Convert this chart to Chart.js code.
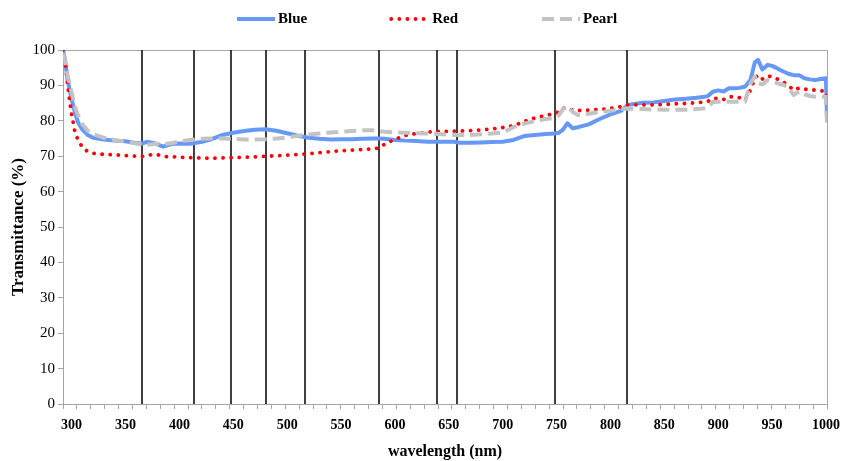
<!DOCTYPE html>
<html><head><meta charset="utf-8">
<script src="https://cdn.jsdelivr.net/npm/chart.js@4.4.1/dist/chart.umd.min.js"></script>
<style>html,body{margin:0;padding:0;background:#fff}#wrap{width:842px;height:461px}</style>
</head><body><div id="wrap"><canvas id="c" width="842" height="461"></canvas></div>
<script>
const wavelengths = [292,294,296,298,300,303,306,310,315,320,330,340,350,360,365,370,375,380,385,390,395,400,410,420,430,440,450,460,470,480,490,500,510,520,530,540,550,560,570,580,585,590,600,610,620,630,640,650,655,660,670,680,690,700,710,720,730,740,748,752,756,760,765,770,780,790,800,810,816,830,840,850,860,870,880,890,895,900,905,910,915,920,925,930,934,937,941,946,950,955,960,965,970,975,980,985,990,995,1000,1001];
const blue = [100,97,92,89,86,82.5,79.5,77.5,76,75.2,74.7,74.4,74.2,73.7,73.6,74.0,73.8,73.3,72.7,73.2,73.5,73.6,73.5,74.0,74.8,76.0,76.6,77.1,77.5,77.6,77.2,76.5,75.8,75.2,74.9,74.7,74.8,74.8,74.9,75.0,75.0,74.9,74.6,74.4,74.3,74.1,74.1,74.1,74.1,73.8,73.8,73.9,74.0,74.1,74.6,75.7,76.0,76.3,76.4,76.6,77.5,79.3,77.9,78.2,79.0,80.5,81.8,82.8,84.5,85.1,85.2,85.6,86.0,86.2,86.5,86.9,88.2,88.6,88.3,89.2,89.2,89.3,89.7,91.5,96.5,97.2,94.5,95.8,95.5,94.8,94.0,93.3,92.9,92.9,92.0,91.7,91.5,91.8,92.0,81];
const red = [100,96.5,91,86,82,77,74.5,72.5,71.3,70.8,70.5,70.4,70.2,70.0,69.9,70.2,70.5,70.4,70.0,69.8,69.8,69.7,69.6,69.5,69.4,69.5,69.6,69.7,69.8,70.0,70.1,70.3,70.5,70.7,71.0,71.3,71.5,71.7,71.9,72.1,72.3,73.3,74.8,75.9,76.4,76.8,77.0,77.0,77.1,77.1,77.2,77.4,77.7,78.1,78.6,79.8,80.8,81.5,82.0,82.5,83.6,83.5,83.0,82.9,83.0,83.2,83.5,84.0,84.5,84.5,84.5,84.6,84.8,84.9,85.1,85.4,86.3,86.3,86.0,86.8,86.8,86.5,85.9,88.7,92.0,92.9,91.8,92.7,92.4,91.8,91.1,90.0,88.7,89.2,89.0,88.7,88.7,88.5,88.3,86];
const pearl = [99,97,93,90.5,88,84,81.5,79,77.2,76.2,75.2,74.6,74.1,73.6,73.3,73.2,73.4,73.5,73.2,73.6,73.8,74.2,74.6,74.9,75.0,75.0,74.9,74.7,74.7,74.8,75.0,75.3,75.8,76.1,76.4,76.7,76.9,77.1,77.3,77.3,77.1,76.9,76.7,76.6,76.5,76.4,76.3,76.1,76.0,76.0,76.0,76.2,76.4,76.7,78.2,79.2,79.9,80.5,80.8,81.5,83.3,84.0,82.5,81.6,82.0,82.5,82.8,83.3,83.5,83.3,83.2,83.1,83.1,83.1,83.3,83.6,85.3,85.4,85.4,85.4,85.4,85.4,85.4,90.5,92.5,90.6,90.3,91.5,91.0,90.6,90.2,89.5,87.3,88.3,87.5,87.0,86.8,86.8,86.8,79.5];
const markerLines = [365,414,448,480,517,585,639,658,749,815];
const xTickLabels = [300,350,400,450,500,550,600,650,700,750,800,850,900,950,1000];
const seriesNames = ['Blue','Red','Pearl'];

const X_MIN = 292, X_MAX = 1001;
const SERIF = '"Liberation Serif", "Times New Roman", serif';
const AXIS_GRAY = '#A6A6A6';

const styles = [
  {color:'#6699F5', width:4, dash:[], cap:'butt'},
  {color:'#FF0000', width:3.8, dash:[0.1,8], cap:'round'},
  {color:'#C3C3C3', width:4, dash:[12,6], cap:'butt'}
];
const values = [blue, red, pearl];

const datasets = values.map((arr, i) => ({
  label: seriesNames[i],
  data: wavelengths.map((w, j) => ({x: w, y: arr[j]})),
  borderColor: styles[i].color,
  borderWidth: styles[i].width,
  borderDash: styles[i].dash,
  borderCapStyle: styles[i].cap,
  borderJoinStyle: 'round',
  pointRadius: 0,
  fill: false,
  tension: 0,
  order: 2 - i
}));

const minorTicks = [];
for (let k = 0; k <= 55; k++) minorTicks.push(X_MIN + k * (X_MAX - X_MIN) / 55);

const decor = {
  id: 'decor',
  beforeDatasetsDraw(chart) {
    const {ctx, chartArea: a, scales: {x}} = chart;
    ctx.save();
    ctx.strokeStyle = AXIS_GRAY; ctx.lineWidth = 1;
    ctx.beginPath();
    ctx.moveTo(a.left, a.top + 0.5); ctx.lineTo(a.right, a.top + 0.5);
    ctx.moveTo(a.right + 0.5, a.top); ctx.lineTo(a.right + 0.5, a.bottom);
    ctx.stroke();
    ctx.strokeStyle = '#000'; ctx.lineWidth = 1.5;
    markerLines.forEach(w => {
      const px = Math.round(x.getPixelForValue(w));
      ctx.beginPath(); ctx.moveTo(px, a.top); ctx.lineTo(px, a.bottom); ctx.stroke();
    });
    ctx.restore();
  },
  afterDraw(chart) {
    const {ctx} = chart;
    ctx.save();
    ctx.font = 'bold 15px ' + SERIF;
    ctx.textBaseline = 'middle';
    const y = 19;
    let xPos = 237;
    seriesNames.forEach((name, i) => {
      const s = styles[i];
      ctx.strokeStyle = s.color; ctx.lineWidth = s.width;
      ctx.setLineDash(s.dash); ctx.lineCap = s.cap;
      ctx.beginPath(); ctx.moveTo(xPos, y); ctx.lineTo(xPos + 38, y); ctx.stroke();
      ctx.setLineDash([]);
      ctx.fillStyle = '#000';
      ctx.fillText(name, xPos + 41, y);
      xPos += 41 + ctx.measureText(name).width + 84;
    });
    ctx.restore();
  }
};

new Chart(document.getElementById('c'), {
  type: 'line',
  data: {datasets},
  options: {
    responsive: false,
    devicePixelRatio: 1,
    animation: false,
    layout: {padding: {top: 50, right: 15, left: 0, bottom: 0}},
    plugins: {legend: {display: false}, tooltip: {enabled: false}},
    scales: {
      x: {
        type: 'linear', min: X_MIN, max: X_MAX,
        afterBuildTicks: s => { s.ticks = minorTicks.concat(xTickLabels).sort((a,b)=>a-b).map(v => ({value: v})); },
        afterFit: s => { s.height = 57; },
        border: {color: AXIS_GRAY, width: 1},
        grid: {drawOnChartArea: false, drawTicks: true, tickLength: 5,
               tickColor: c => xTickLabels.includes(c.tick && c.tick.value) ? 'rgba(0,0,0,0)' : AXIS_GRAY},
        ticks: {autoSkip: false, maxRotation: 0, padding: 8, color: '#000',
                font: {family: SERIF, size: 14, weight: 'bold'},
                callback: v => xTickLabels.includes(v) ? String(v) : ''},
        title: {display: true, text: 'wavelength (nm)', color: '#000',
                font: {family: SERIF, size: 16, weight: 'bold'}, padding: {top: 0, bottom: 0}}
      },
      y: {
        min: 0, max: 100,
        afterFit: s => { s.width = 63; },
        border: {color: AXIS_GRAY, width: 1},
        grid: {drawOnChartArea: false, drawTicks: true, tickLength: 5, color: AXIS_GRAY},
        ticks: {stepSize: 10, padding: 3, color: '#000', font: {family: SERIF, size: 15}},
        title: {display: true, text: 'Transmittance (%)', color: '#000',
                font: {family: SERIF, size: 17, weight: 'bold'}, padding: {top: 8, bottom: 0}}
      }
    }
  },
  plugins: [decor]
});
</script>
</body></html>
